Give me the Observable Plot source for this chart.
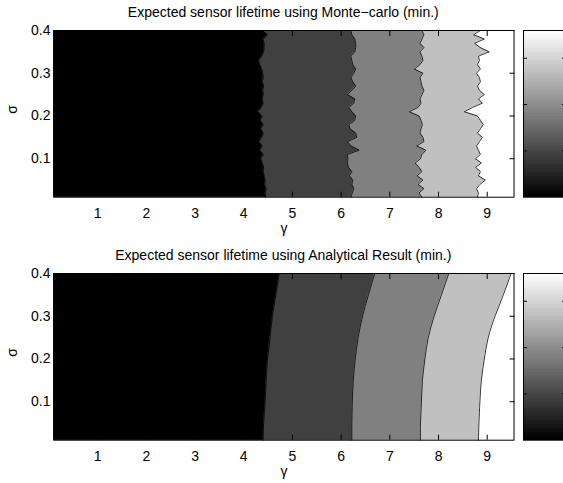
<!DOCTYPE html>
<html><head><meta charset="utf-8">
<script src="https://cdn.jsdelivr.net/npm/d3@7"></script>
<script src="https://cdn.jsdelivr.net/npm/@observablehq/plot@0.6"></script>
<style>
html,body{margin:0;padding:0;background:#fff;}
#fig{position:relative;width:563px;height:483px;overflow:hidden;font-family:"Liberation Sans",Arial,sans-serif;}
.title{position:absolute;left:53.3px;width:460px;text-align:center;font-size:14px;line-height:16px;color:#000;white-space:nowrap;}
.abs{position:absolute;}
</style></head><body><div id="fig"></div>
<script>
// ---- data ----
const titles = ["Expected sensor lifetime using Monte\u2212carlo (min.)", "Expected sensor lifetime using Analytical Result (min.)"];
const gammaDomain = [0.1, 9.55];
const sigmaDomain = [0.01, 0.4];
const gammaTicks = [1, 2, 3, 4, 5, 6, 7, 8, 9];
const sigmaTicks = [0.1, 0.2, 0.3, 0.4];
const bandColors = ["#000000", "#404040", "#808080", "#c0c0c0", "#ffffff"];

// Monte-carlo: gamma position of each contour boundary at each sigma
const sigmaMC = [0.01,0.02,0.03,0.04,0.05,0.06,0.07,0.08,0.09,0.10,0.11,0.12,0.13,0.14,0.15,0.16,0.17,0.18,0.19,0.20,0.21,0.22,0.23,0.24,0.25,0.26,0.27,0.28,0.29,0.30,0.31,0.32,0.33,0.34,0.35,0.36,0.37,0.38,0.39,0.40];
const mcB1 = [4.45,4.44,4.46,4.43,4.44,4.42,4.40,4.41,4.38,4.35,4.40,4.33,4.38,4.31,4.37,4.40,4.35,4.40,4.34,4.38,4.29,4.36,4.40,4.38,4.40,4.39,4.41,4.38,4.40,4.39,4.37,4.33,4.31,4.37,4.41,4.42,4.42,4.40,4.49,4.38];
const mcB2 = [6.20,6.23,6.26,6.22,6.24,6.17,6.22,6.15,6.13,6.14,6.13,6.37,6.20,6.13,6.32,6.30,6.18,6.16,6.28,6.30,6.22,6.16,6.26,6.28,6.13,6.22,6.30,6.24,6.20,6.26,6.30,6.24,6.22,6.20,6.28,6.30,6.30,6.28,6.22,6.20];
const mcB3 = [7.66,7.60,7.70,7.58,7.68,7.56,7.66,7.60,7.52,7.63,7.66,7.74,7.55,7.70,7.68,7.62,7.64,7.67,7.64,7.60,7.40,7.58,7.64,7.62,7.66,7.70,7.66,7.64,7.62,7.68,7.50,7.62,7.68,7.66,7.62,7.70,7.62,7.66,7.70,7.66];
const mcB4 = [8.80,8.82,8.78,8.85,8.96,8.82,8.86,8.76,8.88,8.76,8.86,8.82,8.78,8.84,8.90,8.80,8.86,8.92,8.86,8.80,8.53,8.70,8.90,8.82,8.94,8.84,8.80,8.86,8.84,8.78,8.86,8.80,8.84,8.82,9.04,8.86,8.74,8.94,8.72,8.86];

// Analytical result: smooth boundaries
const sigmaAn = [0.01,0.05,0.10,0.15,0.20,0.25,0.30,0.35,0.40];
const anB1 = [4.40,4.41,4.44,4.46,4.49,4.54,4.59,4.66,4.73];
const anB2 = [6.22,6.22,6.23,6.25,6.29,6.35,6.44,6.56,6.69];
const anB3 = [7.63,7.63,7.65,7.67,7.72,7.79,7.91,8.06,8.21];
const anB4 = [8.82,8.83,8.85,8.88,8.94,9.02,9.16,9.33,9.49];

// colorbar
const cbarDomain = [0, 3.6];
const cbarTicks = [1, 2, 3];

// ---- drawing ----
const FONT = '"Liberation Sans", Arial, sans-serif';
const M = {left: 53.3, right: 49.5, top: 30, bottom: 43.3, h: 240};

function panel(sig, B, curve) {
  const rows = sig.map((s, i) => ({s, b1: B[0][i], b2: B[1][i], b3: B[2][i], b4: B[3][i]}));
  const bandMarks = [];
  ["b4", "b3", "b2", "b1"].forEach((k, j) => {
    bandMarks.push(Plot.areaX(rows, {y: "s", x1: gammaDomain[0], x2: k, fill: bandColors[3 - j], curve}));
  });
  const lines = ["b1", "b2", "b3", "b4"].map(k => Plot.lineX(rows, {x: k, y: "s", stroke: "black", strokeWidth: 0.8, curve}));
  return Plot.plot({
    width: 563, height: M.h,
    marginLeft: M.left, marginRight: M.right, marginTop: M.top, marginBottom: M.bottom,
    style: {fontFamily: FONT, fontSize: "14px", color: "#000", background: "transparent", overflow: "visible"},
    x: {domain: gammaDomain},
    y: {domain: sigmaDomain},
    marks: [
      Plot.frame({fill: bandColors[4]}),
      ...bandMarks,
      ...lines,
      Plot.frame({stroke: "black", strokeWidth: 1}),
      Plot.axisX(gammaTicks, {anchor: "bottom", tickSize: -5, tickPadding: 16, label: null}),
      Plot.axisX(gammaTicks, {anchor: "top", tickSize: -5, tickFormat: () => "", label: null}),
      Plot.axisY(sigmaTicks, {anchor: "left", tickSize: -5, tickPadding: 8.3, label: null, tickFormat: d => d.toFixed(1)}),
      Plot.axisY(sigmaTicks, {anchor: "right", tickSize: -5, tickFormat: () => "", label: null}),
      Plot.text(["\u03b3"], {text: d => d, frameAnchor: "bottom", dy: 36, fontSize: 14}),
      Plot.text(["\u03c3"], {text: d => d, frameAnchor: "left", dx: -41, rotate: -90, fontSize: 14})
    ]
  });
}

function colorbar() {
  const n = 64, span = cbarDomain[1] - cbarDomain[0];
  const cells = d3.range(n).map(i => ({
    y1: cbarDomain[0] + span * i / n,
    y2: cbarDomain[0] + span * (i + 1) / n,
    v: cbarDomain[0] + span * (i + 0.5) / n
  }));
  return Plot.plot({
    width: 60, height: M.h,
    marginLeft: 1, marginRight: 17, marginTop: M.top, marginBottom: M.bottom,
    style: {fontFamily: FONT, fontSize: "14px", background: "transparent", overflow: "visible"},
    x: {domain: [0, 1], axis: null},
    y: {domain: cbarDomain},
    color: {type: "linear", domain: cbarDomain, range: ["black", "white"]},
    marks: [
      Plot.rect(cells, {x1: 0, x2: 1, y1: "y1", y2: "y2", fill: "v", shapeRendering: "crispEdges"}),
      Plot.frame({stroke: "black", strokeWidth: 1}),
      Plot.axisY(cbarTicks, {anchor: "left", tickSize: -4, tickFormat: () => "", label: null}),
      Plot.axisY(cbarTicks, {anchor: "right", tickSize: -4, tickFormat: () => "", label: null})
    ]
  });
}

const fig = document.getElementById("fig");
const offsets = [0, 242.7];
const panels = [
  panel(sigmaMC, [mcB1, mcB2, mcB3, mcB4], "linear"),
  panel(sigmaAn, [anB1, anB2, anB3, anB4], "natural")
];
panels.forEach((p, i) => {
  p.classList.add("abs");
  p.style.left = "0px";
  p.style.top = offsets[i] + "px";
  fig.appendChild(p);
  const cb = colorbar();
  cb.classList.add("abs");
  cb.style.left = "522px";
  cb.style.top = offsets[i] + "px";
  fig.appendChild(cb);
  const t = document.createElement("div");
  t.className = "title";
  t.style.top = (offsets[i] + 4.45) + "px";
  t.textContent = titles[i];
  fig.appendChild(t);
});
</script></body></html>
